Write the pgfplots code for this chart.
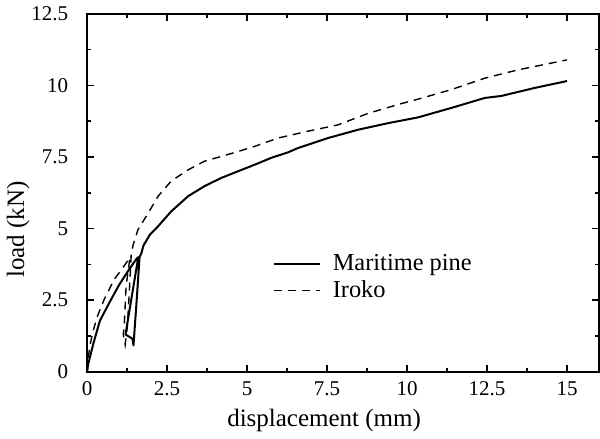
\documentclass[border=0pt]{standalone}
\usepackage{fontspec}
\setmainfont{Liberation Serif}
\usepackage{pgfplots}
\pgfplotsset{compat=1.18}
\begin{document}
\begin{tikzpicture}
\begin{axis}[
  scale only axis, width=256pt, height=179pt,
  xmin=0, xmax=16, ymin=0, ymax=12.5,
  xtick={0,2.5,5,7.5,10,12.5,15}, ytick={0,2.5,5,7.5,10,12.5},
  minor tick num=1,
  tick align=inside,
  major tick length=3.5pt, minor tick length=2pt,
  every tick/.style={black, line width=0.8pt},
  axis line style={line width=1pt},
  /pgf/number format/assume math mode=true,
  tick label style={font=\fontsize{10.5}{12}\selectfont},
  yticklabel style={xshift=-6pt},
  xticklabel style={yshift=-1.5pt},
  xlabel={displacement (mm)}, ylabel={load (kN)},
  every axis x label/.style={at={(axis description cs:0.463,-0.135)}, anchor=center,
    font=\fontsize{12.5}{14}\selectfont},
  every axis y label/.style={at={(axis description cs:-0.135,0.397)}, rotate=90, anchor=center,
    font=\fontsize{12.5}{14}\selectfont},
  legend style={draw=none, fill=none, inner sep=0pt, at={(axis description cs:0.362,0.335)},
    anchor=north west, font=\fontsize{12.2}{14}\selectfont, row sep=1.5pt,
    nodes={inner sep=1pt}},
  legend cell align=left,
  legend image code/.code={\draw[#1] (0pt,0pt) -- (23pt,0pt); \path (28pt,0pt);},
]
% Maritime pine
\addplot[black, line width=1pt, line join=round] coordinates {
  (0,0) (0.03,0.25) (0.1,0.55) (0.2,1.0) (0.4,1.78) (0.7,2.42) (1.0,3.03)
  (1.3,3.55) (1.55,3.95) (1.6,4.0)
  (1.2,1.3) (1.42,1.15) (1.45,0.92)
  (1.55,2.5) (1.64,4.0) (1.7,4.15) (1.76,4.4) (1.96,4.78) (2.22,5.08)
  (2.63,5.6) (3.16,6.13) (3.67,6.48) (4.2,6.77) (4.72,7.0) (5.24,7.23)
  (5.76,7.47) (6.28,7.66) (6.59,7.81) (7.53,8.16) (8.47,8.45) (9.41,8.68)
  (10.34,8.88) (11.38,9.21) (12.43,9.56) (12.95,9.63) (13.99,9.91) (15.0,10.15)
};
% Iroko
\addplot[black, line width=0.7pt, dash pattern=on 4pt off 3pt] coordinates {
  (0,0) (0.04,0.5) (0.08,0.85) (0.17,1.35) (0.32,1.93) (0.53,2.51) (0.84,3.21)
  (1.1,3.6) (1.29,3.91) (1.34,3.98)
  (1.22,3.0) (1.16,1.6) (1.13,1.3) (1.19,0.94)
  (1.26,1.6) (1.33,3.0) (1.38,4.1) (1.44,4.43) (1.59,4.96) (1.91,5.54)
  (2.22,6.13) (2.63,6.66) (3.16,7.05) (3.67,7.35) (4.2,7.52) (4.72,7.69)
  (5.24,7.87) (5.97,8.16) (6.91,8.4) (7.84,8.62) (8.78,9.02) (9.72,9.33)
  (10.45,9.55) (11.38,9.85) (12.43,10.25) (13.47,10.54) (15.0,10.89)
};
\legend{Maritime pine, Iroko}
\end{axis}
\end{tikzpicture}
\end{document}
